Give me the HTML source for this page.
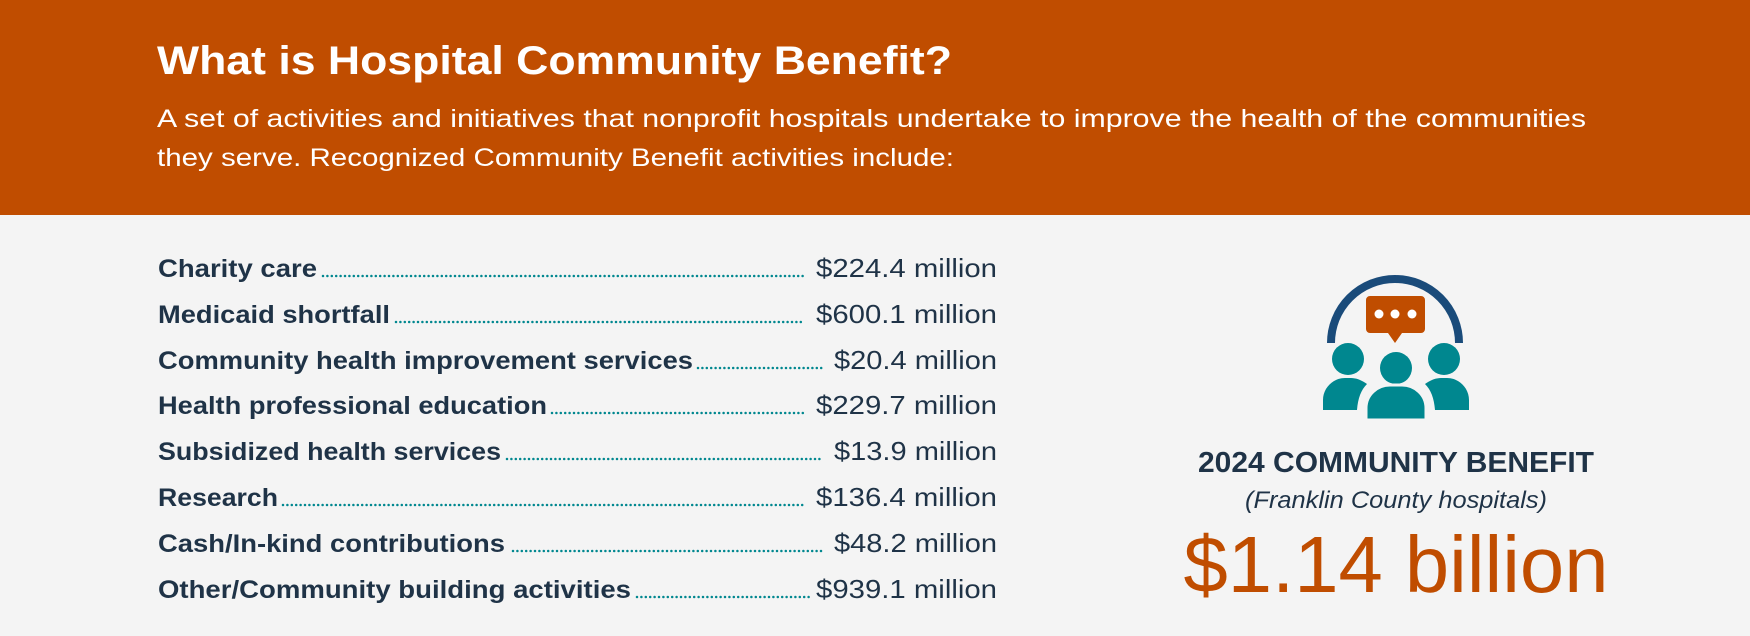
<!DOCTYPE html>
<html><head><meta charset="utf-8"><style>
html,body{margin:0;padding:0;background:#f4f4f4}
svg{display:block}
</style></head><body>
<svg width="1750" height="636" viewBox="0 0 1750 636" xmlns="http://www.w3.org/2000/svg">
<rect width="1750" height="636" fill="#f4f4f4"/>
<rect width="1750" height="215" fill="#c04d00"/>
<g font-family="Liberation Sans, sans-serif" fill="#ffffff">
<text x="157" y="74" font-size="40" font-weight="bold" textLength="795" lengthAdjust="spacingAndGlyphs">What is Hospital Community Benefit?</text>
<text x="157" y="127" font-size="25" textLength="1429" lengthAdjust="spacingAndGlyphs">A set of activities and initiatives that nonprofit hospitals undertake to improve the health of the communities</text>
<text x="157" y="166" font-size="25" textLength="797" lengthAdjust="spacingAndGlyphs">they serve. Recognized Community Benefit activities include:</text>
</g>
<g font-family="Liberation Sans, sans-serif" font-size="25" fill="#1f3347">
<g font-weight="bold">
<text x="158" y="277" textLength="159" lengthAdjust="spacingAndGlyphs">Charity care</text>
<text x="158" y="323" textLength="232" lengthAdjust="spacingAndGlyphs">Medicaid shortfall</text>
<text x="158" y="369" textLength="535" lengthAdjust="spacingAndGlyphs">Community health improvement services</text>
<text x="158" y="414" textLength="389" lengthAdjust="spacingAndGlyphs">Health professional education</text>
<text x="158" y="460" textLength="343" lengthAdjust="spacingAndGlyphs">Subsidized health services</text>
<text x="158" y="506" textLength="120" lengthAdjust="spacingAndGlyphs">Research</text>
<text x="158" y="552" textLength="347" lengthAdjust="spacingAndGlyphs">Cash/In-kind contributions</text>
<text x="158" y="598" textLength="473" lengthAdjust="spacingAndGlyphs">Other/Community building activities</text>
</g>
<g font-size="26">
<text x="816" y="277" textLength="181" lengthAdjust="spacingAndGlyphs">$224.4 million</text>
<text x="816" y="323" textLength="181" lengthAdjust="spacingAndGlyphs">$600.1 million</text>
<text x="834" y="369" textLength="163" lengthAdjust="spacingAndGlyphs">$20.4 million</text>
<text x="816" y="414" textLength="181" lengthAdjust="spacingAndGlyphs">$229.7 million</text>
<text x="834" y="460" textLength="163" lengthAdjust="spacingAndGlyphs">$13.9 million</text>
<text x="816" y="506" textLength="181" lengthAdjust="spacingAndGlyphs">$136.4 million</text>
<text x="834" y="552" textLength="163" lengthAdjust="spacingAndGlyphs">$48.2 million</text>
<text x="816" y="598" textLength="181" lengthAdjust="spacingAndGlyphs">$939.1 million</text>
</g>
</g>
<g stroke="#00878f" stroke-width="2.5" stroke-linecap="round" stroke-dasharray="0 4.4">
<line x1="323" y1="276" x2="804" y2="276"/>
<line x1="396" y1="322" x2="804" y2="322"/>
<line x1="698" y1="368" x2="822" y2="368"/>
<line x1="552" y1="413" x2="804" y2="413"/>
<line x1="507" y1="459" x2="822" y2="459"/>
<line x1="283" y1="505" x2="804" y2="505"/>
<line x1="513" y1="551" x2="822" y2="551"/>
<line x1="637" y1="597" x2="812" y2="597"/>
</g>
<path d="M1331 343 A64 64 0 0 1 1459 343" fill="none" stroke="#1a4b7a" stroke-width="8"/>
<path d="M1370 296 h51 a4 4 0 0 1 4 4 v29 a4 4 0 0 1 -4 4 h-19 l-7 10 l-7 -10 h-18 a4 4 0 0 1 -4 -4 v-29 a4 4 0 0 1 4 -4z" fill="#c04d00"/>
<g fill="#ffffff"><circle cx="1379" cy="314" r="4.5"/><circle cx="1395" cy="314" r="4.5"/><circle cx="1412" cy="314" r="4.5"/></g>
<g fill="#00878f">
<circle cx="1348" cy="359" r="16"/>
<circle cx="1444" cy="359" r="16"/>
<path d="M1323 410 v-10 c0-12 10-22 22-22 h6 c6 0 12 3 16 6 c-6 6-9 14-10 26z"/>
<path d="M1469 410 v-10 c0-12-10-22-22-22 h-6 c-6 0-12 3-16 6 c6 6 9 14 10 26z"/>
</g>
<circle cx="1396" cy="368" r="18" fill="#f4f4f4"/>
<circle cx="1396" cy="368" r="16" fill="#00878f"/>
<path d="M1366 420 v-12 c0-13 11-23 24-23 h12 c13 0 24 10 24 23 v12z" fill="#00878f" stroke="#f4f4f4" stroke-width="3"/>
<g font-family="Liberation Sans, sans-serif" text-anchor="middle">
<text x="1396" y="472" font-size="29" font-weight="bold" fill="#1f3347" textLength="396" lengthAdjust="spacingAndGlyphs">2024 COMMUNITY BENEFIT</text>
<text x="1396" y="508" font-size="24" font-style="italic" fill="#1f3347" textLength="302" lengthAdjust="spacingAndGlyphs">(Franklin County hospitals)</text>
<text x="1396" y="592" font-size="80" fill="#c04d00" textLength="425" lengthAdjust="spacingAndGlyphs">$1.14 billion</text>
</g>
</svg>
</body></html>
